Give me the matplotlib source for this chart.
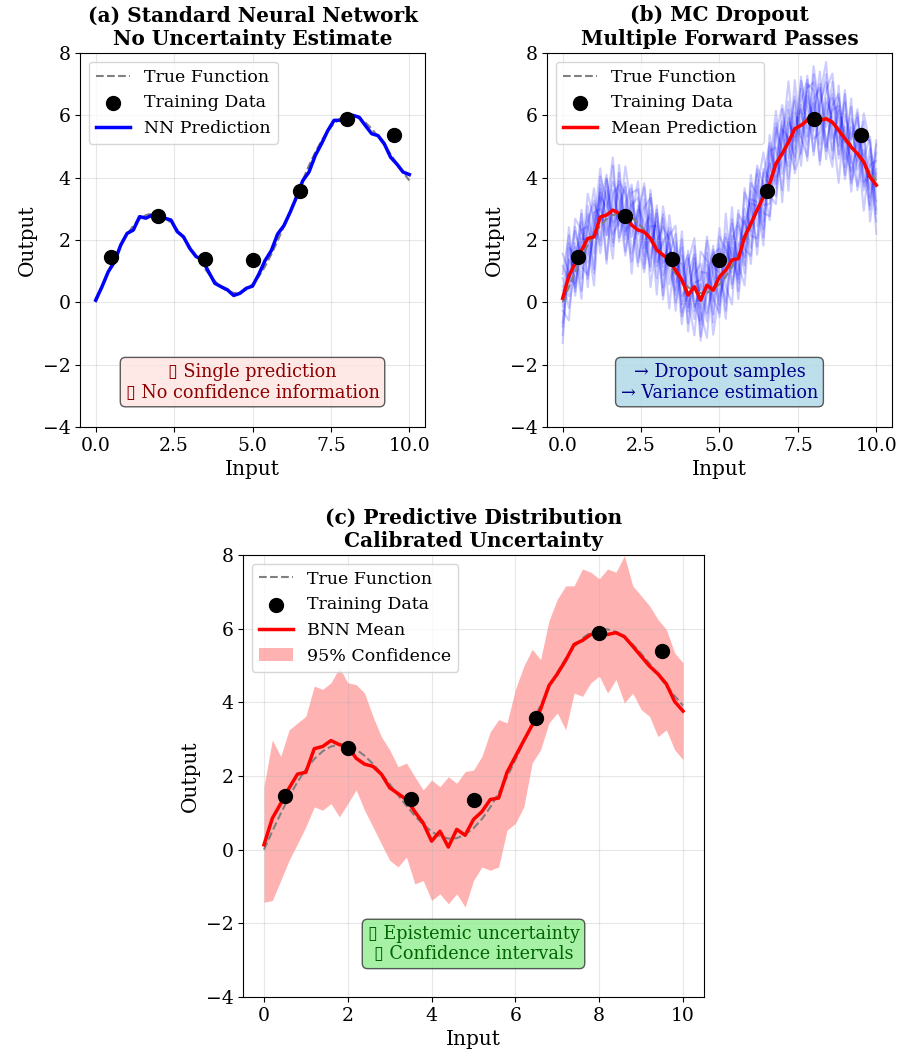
import numpy as np
import matplotlib
matplotlib.use("Agg")
import matplotlib.pyplot as plt

plt.rcParams['font.family'] = ['DejaVu Serif', 'DejaVu Sans']

# --- data ---
x_grid = np.linspace(0, 10, 51)

true_func = [0.00, 0.50, 0.98, 1.43, 1.84, 2.18, 2.46, 2.67, 2.80, 2.85,
             2.82, 2.72, 2.55, 2.33, 2.07, 1.78, 1.48, 1.19, 0.92, 0.68,
             0.49, 0.36, 0.30, 0.31, 0.41, 0.58, 0.83, 1.15, 1.54, 1.97,
             2.44, 2.93, 3.43, 3.92, 4.39, 4.81, 5.19, 5.50, 5.74, 5.90,
             5.98, 5.98, 5.91, 5.77, 5.57, 5.32, 5.05, 4.75, 4.45, 4.17,
             3.91]

train_x = [0.5, 2.0, 3.5, 5.0, 6.5, 8.0, 9.5]
train_y = [1.45, 2.77, 1.38, 1.35, 3.57, 5.87, 5.38]

nn_pred = [0.07, 0.50, 0.98, 1.30, 1.84, 2.21, 2.32, 2.75, 2.70, 2.80,
           2.75, 2.70, 2.64, 2.27, 2.10, 1.73, 1.47, 1.36, 0.98, 0.61,
           0.50, 0.40, 0.22, 0.29, 0.45, 0.52, 0.90, 1.34, 1.66, 2.19,
           2.46, 2.89, 3.37, 3.90, 4.18, 4.71, 5.09, 5.51, 5.84, 5.84,
           6.00, 6.00, 5.94, 5.67, 5.41, 5.35, 5.09, 4.66, 4.44, 4.18,
           4.10]

pred_mean = [0.13, 0.85, 1.25, 1.67, 2.05, 2.10, 2.74, 2.80, 2.96, 2.85,
             2.80, 2.48, 2.32, 2.26, 2.05, 1.68, 1.52, 1.36, 1.03, 0.72,
             0.23, 0.50, 0.07, 0.55, 0.39, 0.82, 1.03, 1.36, 1.40, 2.10,
             2.53, 2.96, 3.38, 3.81, 4.45, 4.77, 5.14, 5.57, 5.68, 5.84,
             5.89, 5.84, 5.89, 5.78, 5.52, 5.25, 4.98, 4.77, 4.50, 4.02,
             3.76]

# dropout sample deviations from the mean (units of 0.13)
mc_dev = [
    [3, -5, 8, -2, 11, 4, -7, 9, -3, 6,
     -9, 2, 12, -4, 7, -1, 10, -6, 3, -11,
     5, 8, -3, -13, 6, 1, -8, 10, -4, 7,
     -2, 9, -10, 4, 13, -5, 2, 8, -7, 11,
     -3, 6, 14, -4, 1, -9, 7, 3, -12, 5,
     -6],
    [-9, 4, -2, 10, -6, 1, 7, -11, 5, -3,
     8, -7, 2, 11, -5, 9, -2, 4, -10, 6,
     -1, -12, 7, 3, -6, 10, 5, -3, 8, -9,
     12, -4, 6, -1, -8, 3, 15, -5, 9, -2,
     4, -10, 1, 7, -6, 11, -3, -8, 6, 9,
     -4],
    [6, 10, -8, 3, -1, -12, 5, 2, 13, -6,
     1, 9, -4, -10, 3, 6, -8, 11, 2, 4,
     -7, 10, -2, 5, -11, -4, 8, 1, -6, 12,
     -3, -7, 5, 10, -2, 7, -9, 1, 4, -6,
     13, 2, -5, -11, 8, -1, 10, -4, 3, -7,
     8],
    [-3, -11, 5, -7, 4, 9, -2, 6, -8, 12,
     -4, 1, -9, 6, 10, -3, 4, -12, 7, -1,
     11, -5, 3, 8, -2, -9, 14, -6, 2, 5,
     -10, 6, -4, -8, 9, 1, -6, 12, -3, -9,
     5, 8, -2, 10, -7, 3, -11, 6, 1, -3,
     10],
    [11, 1, -6, 7, -10, 3, 12, -5, 0, 8,
     5, -12, 6, 2, -8, 11, -5, 1, 9, -4,
     2, 6, -10, -2, 9, 7, -4, -11, 11, 3,
     6, 2, -12, 8, 4, -9, 5, -2, 11, 3,
     -8, 4, 9, -1, -13, 6, 2, 11, -5, 1,
     -9],
    [-6, 7, 2, -12, 8, -4, 3, 10, -6, -2,
     12, 4, -1, 8, -12, 2, 7, 5, -3, 10,
     -9, 3, 9, -7, 1, 12, -2, 6, -10, 0,
     8, -11, 2, 5, -6, 11, -4, 7, -10, 6,
     -1, 12, -7, 4, 9, -3, -6, 2, 10, -11,
     3],
    [2, -3, 11, 5, -4, 8, -9, 1, 7, 3,
     -6, 8, 10, -8, 5, -7, 12, 3, -5, 8,
     -3, 1, 5, 11, -8, 4, 9, -7, 4, -5,
     10, 4, -6, 12, -4, -2, 8, -8, 6, 10,
     -5, -3, 7, 12, -2, 9, -8, 5, -6, 7,
     2],
    [-11, 8, -5, 1, 6, -8, 10, 4, -9, 2,
     7, -3, 5, -6, 11, 3, -10, 8, 5, -8,
     9, -4, -6, 12, 4, -7, 2, 9, -1, -12,
     3, 10, -2, -5, 7, 12, -1, -10, 2, 8,
     9, -6, 4, -9, 11, -7, 5, -2, 12, 8,
     -12],
    [5, -8, -1, 9, -12, 6, 2, -5, 11, -7,
     3, 10, -8, 1, 6, -11, 9, -2, -6, 12,
     -4, 7, -9, 2, 10, -5, -1, 13, -8, 4,
     -6, 11, 3, -9, 1, 8, -12, 4, -3, 9,
     7, -11, 5, 1, -4, 12, -9, -1, 7, -5,
     4],
    [-2, 12, -7, 5, 3, -9, 8, -1, -12, 10,
     -5, 6, 1, -9, 12, -4, 3, 7, -8, 2,
     10, -6, 4, -9, 7, 2, -12, 5, 9, -3,
     -8, 5, 11, -3, -10, 6, 1, -7, 12, -4,
     2, 9, -10, 6, 3, -5, 12, -9, 1, 10,
     -7],
    [8, -1, 4, -10, 2, 12, -6, 9, -4, 1,
     -10, 5, 8, -2, -7, 10, -3, 6, 11, -9,
     1, -8, 12, 6, -3, 8, -10, 3, -5, 11,
     4, -9, 7, 1, 10, -12, 6, -3, 5, -10,
     11, 1, -8, 3, 6, -10, 2, 9, -7, 3,
     6],
    [-7, 3, 9, -4, -9, 2, 6, -12, 4, 7,
     -2, -9, 4, 12, -1, 7, -11, 2, 4, -6,
     8, 12, -5, -2, 11, -10, 6, -2, 12, -7,
     5, 1, -8, 9, -5, 4, 10, -11, -6, 7,
     -9, 3, 11, -7, 5, 1, -4, 10, -2, -8,
     11],
]

ci_upper = [1.71, 2.98, 2.53, 3.25, 3.44, 3.62, 4.44, 4.35, 4.53, 4.94,
            4.53, 4.48, 4.25, 3.62, 3.07, 2.71, 2.25, 2.35, 1.98, 1.62,
            1.89, 1.71, 1.98, 1.80, 2.12, 2.16, 2.53, 3.20, 3.53, 3.44,
            4.35, 4.98, 5.44, 5.16, 6.21, 6.80, 7.16, 7.16, 7.62, 7.53,
            7.35, 7.62, 7.53, 7.98, 7.16, 6.89, 6.62, 6.25, 5.98, 5.34,
            5.07]
ci_lower = [-1.43, -1.38, -0.84, -0.29, 0.16, 0.62, 1.16, 1.07, 1.25, 0.89,
            1.25, 1.62, 1.07, 0.62, 0.16, -0.29, -0.47, -0.20, -0.93, -0.84,
            -1.38, -1.20, -1.47, -1.20, -1.56, -0.84, -0.47, -0.56, -0.47, 0.53,
            0.71, 1.16, 2.35, 2.71, 3.44, 3.71, 3.25, 4.25, 4.16, 4.53,
            4.71, 4.25, 4.62, 3.98, 4.25, 3.80, 3.62, 3.07, 3.25, 2.71,
            2.44]

fig = plt.figure(figsize=(9.02, 10.54), dpi=100)
ax1 = fig.add_axes([0.0887, 0.5949, 0.3825, 0.3548])
ax2 = fig.add_axes([0.6064, 0.5949, 0.3825, 0.3548])
ax3 = fig.add_axes([0.2694, 0.0541, 0.5111, 0.4194])

box_fam = ['DejaVu Serif', 'DejaVu Sans']
title_fs = 14.5
box_fs = 12.7

# (a) standard NN
ax1.plot(x_grid, true_func, '--', color='gray', lw=1.5, label='True Function', zorder=2)
ax1.scatter(train_x, train_y, s=100, color='black', label='Training Data', zorder=5)
ax1.plot(x_grid, nn_pred, color='blue', lw=2.5, label='NN Prediction', zorder=3)
ax1.set_title('(a) Standard Neural Network\nNo Uncertainty Estimate', fontsize=title_fs, fontweight='bold')
ax1.text(0.5, 0.12, '\u25af Single prediction\n\u25af No confidence information',
         transform=ax1.transAxes, ha='center', va='center', fontsize=box_fs, color='darkred',
         family=box_fam,
         bbox=dict(boxstyle='round,pad=0.3', facecolor='mistyrose', edgecolor='#333333', alpha=0.8))

# (b) MC dropout
mean_arr = np.array(pred_mean)
samples = [mean_arr + np.array(d) * 0.13 for d in mc_dev]
for s in samples:
    ax2.plot(x_grid, s, color='blue', alpha=0.2, lw=1.5, zorder=1)
ax2.plot(x_grid, true_func, '--', color='gray', lw=1.5, label='True Function', zorder=2)
ax2.scatter(train_x, train_y, s=100, color='black', label='Training Data', zorder=5)
ax2.plot(x_grid, pred_mean, color='red', lw=2.5, label='Mean Prediction', zorder=3)
ax2.set_title('(b) MC Dropout\nMultiple Forward Passes', fontsize=title_fs, fontweight='bold')
ax2.text(0.5, 0.12, '\u2192 Dropout samples\n\u2192 Variance estimation',
         transform=ax2.transAxes, ha='center', va='center', fontsize=box_fs, color='darkblue',
         family=box_fam,
         bbox=dict(boxstyle='round,pad=0.3', facecolor='lightblue', edgecolor='#333333', alpha=0.8))

# (c) predictive distribution
ax3.plot(x_grid, true_func, '--', color='gray', lw=1.5, label='True Function', zorder=2)
ax3.scatter(train_x, train_y, s=100, color='black', label='Training Data', zorder=5)
ax3.plot(x_grid, pred_mean, color='red', lw=2.5, label='BNN Mean', zorder=3)
ax3.fill_between(x_grid, ci_lower, ci_upper, color='red', alpha=0.3, lw=0,
                 label='95% Confidence', zorder=1)
ax3.set_title('(c) Predictive Distribution\nCalibrated Uncertainty', fontsize=title_fs, fontweight='bold')
ax3.text(0.5, 0.12, '\u25af Epistemic uncertainty\n\u25af Confidence intervals',
         transform=ax3.transAxes, ha='center', va='center', fontsize=box_fs, color='darkgreen',
         family=box_fam,
         bbox=dict(boxstyle='round,pad=0.3', facecolor='lightgreen', edgecolor='#333333', alpha=0.8))

for ax in (ax1, ax2, ax3):
    ax.set_xlim(-0.5, 10.5)
    ax.set_ylim(-4, 8)
    ax.set_xlabel('Input', fontsize=14.5)
    ax.set_ylabel('Output', fontsize=14.5)
    ax.tick_params(labelsize=13.5)
    ax.grid(True, alpha=0.3)
    ax.legend(loc='upper left', fontsize=12.5)

for ax in (ax1, ax2):
    ax.set_xticks([0.0, 2.5, 5.0, 7.5, 10.0])

fig.savefig('out.png', dpi=100)
